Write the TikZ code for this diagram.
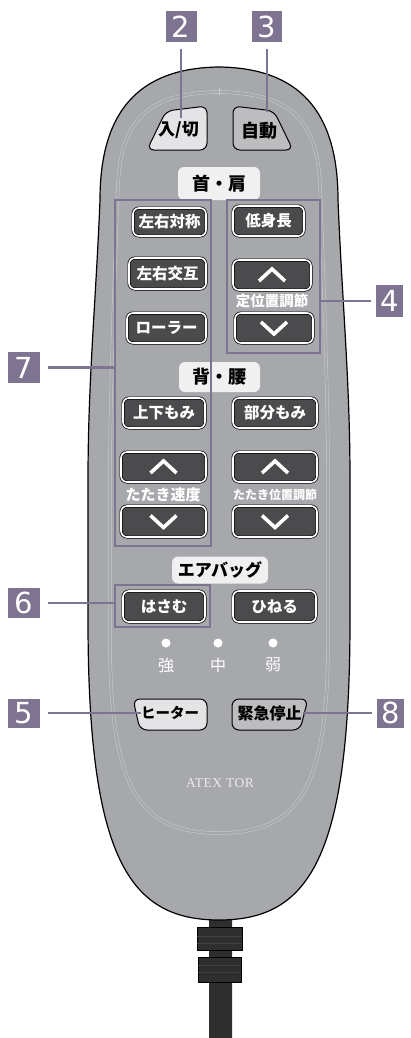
\documentclass[tikz,border=0pt]{standalone}
\usepackage{fontspec}
\newfontfamily\jp{Noto Sans CJK JP}
\newfontfamily\numfont{DejaVu Sans}
\newfontfamily\logofont{Liberation Serif}[LetterSpace=4]
\usetikzlibrary{positioning,calc}
\definecolor{bodyGray}{HTML}{A7A8AB}
\definecolor{calloutPurple}{HTML}{7E7492}
\definecolor{btnDark}{HTML}{4B4B4D}
\definecolor{btnLight}{HTML}{E4E4E6}
\definecolor{btnMid}{HTML}{BDBDC0}
\definecolor{tagWhite}{HTML}{F0F0F1}
\definecolor{lineLight}{HTML}{CBCCCE}
\definecolor{cordDark}{HTML}{2E2E2E}
\definecolor{cordLight}{HTML}{9C9C9C}
\tikzstyle{numBox} = [rectangle, fill=calloutPurple, text=white, minimum width=31, minimum height=31, inner sep=0pt, font=\numfont\fontsize{29}{29}\selectfont]
\tikzstyle{callout} = [line width=2.6pt, draw=calloutPurple]
\tikzstyle{grpBox} = [rectangle, draw=calloutPurple, line width=2.4pt, inner sep=0pt]
\tikzstyle{darkBtn} = [rectangle, rounded corners=6pt, fill=btnDark, draw=black, double=white, double distance=1.6pt, line width=0.7pt, text=white, inner sep=0pt, font=\jp\bfseries\fontsize{15.5}{15.5}\selectfont]
\tikzstyle{tagBox} = [rectangle, rounded corners=6pt, fill=tagWhite, inner sep=0pt, font=\jp\bfseries\fontsize{18}{18}\selectfont]
\tikzstyle{whiteText} = [text=white, inner sep=0pt, font=\jp\bfseries\fontsize{15}{15}\selectfont]
\tikzstyle{btnText} = [inner sep=0pt, font=\jp\bfseries\fontsize{16}{16}\selectfont]
\tikzstyle{lightBtn} = [draw=black, line width=1pt, rounded corners=7pt]
\tikzstyle{chev} = [draw=white, line width=3.6pt]
\tikzstyle{cordShade} = [left color=cordDark, middle color=cordLight, right color=cordDark]
\tikzstyle{led} = [circle, fill=white, minimum size=9, inner sep=0pt]

\begin{document}
\begin{tikzpicture}[x=1pt, y=-1pt]
    \useasboundingbox (0,0) rectangle (411,1038);

    % cord
    \shade[cordShade] (209,912) rectangle (232,1038);
    \shade[cordShade, draw=black, line width=0.5pt] (197,927) rectangle (242,950);
    \shade[cordShade, draw=black, line width=0.5pt] (198,957) rectangle (241,982);
    \draw[black!75, line width=0.8pt] (197,936) -- (242,936) (197,943) -- (242,943);
    \draw[black!75, line width=0.8pt] (198,965) -- (241,965) (198,972) -- (241,972);

    % body
    \draw[fill=bodyGray, draw=black, line width=1.2pt]
        (219,67) .. controls (140,68) and (100,110) .. (100,200)
        .. controls (96,300) and (88,380) .. (88,480) -- (88,620)
        .. controls (88,860) and (130,920) .. (219,920)
        .. controls (308,920) and (350,860) .. (350,620) -- (350,480)
        .. controls (350,380) and (342,300) .. (338,200)
        .. controls (338,110) and (298,68) .. (219,67) -- cycle;
    \draw[lineLight, line width=0.5pt, double=bodyGray, double distance=2.4pt]
        (219,92) .. controls (150,93) and (121,118) .. (118,185)
        .. controls (114,290) and (110,400) .. (110,480) -- (110,640)
        .. controls (110,790) and (140,833) .. (219,833)
        .. controls (298,833) and (328,790) .. (328,640) -- (328,480)
        .. controls (328,400) and (324,290) .. (320,185)
        .. controls (317,118) and (288,93) .. (219,92) -- cycle;
    \draw[lineLight, line width=0.6pt] (219,88) -- (219,95);

    % top buttons
    \draw[lightBtn, fill=btnLight] (166,111) -- (207,106) -- (207,150) -- (147,150) -- cycle;
    \draw[lightBtn, fill=btnMid] (274,111) -- (233,106) -- (233,150) -- (293,150) -- cycle;
    \node (onoff) [btnText, font=\jp\bfseries\fontsize{17}{17}\selectfont] at (178.5,130.5) {入/切};
    \node (auto) [btnText, font=\jp\bfseries\fontsize{18}{18}\selectfont] at (259.5,130.5) {自動};

    % neck and shoulder
    \node (neckTag) [tagBox, minimum width=82, minimum height=33] at (219,183.5) {首・肩};
    \node (sym) [darkBtn, minimum width=73, minimum height=28] at (169.5,222) {左右対称};
    \node (alt) [darkBtn, minimum width=77, minimum height=31] at (167.5,273.5) {左右交互};
    \node (roller) [darkBtn, minimum width=79, minimum height=30] at (166.5,328) {ローラー};
    \node (short) [darkBtn, minimum width=71, minimum height=30] at (268.5,221) {低身長};
    \node (posUp) [darkBtn, minimum width=78, minimum height=30] at (272,275) {};
    \node (posDown) [darkBtn, minimum width=78, minimum height=30] at (274,328) {};
    \node (posText) [whiteText, font=\jp\bfseries\fontsize{14.5}{14.5}\selectfont] at (272,300.5) {定位置調節};

    % back and waist
    \node (backTag) [tagBox, minimum width=81, minimum height=30] at (219.5,377) {背・腰};
    \node (updown) [darkBtn, minimum width=82, minimum height=30] at (164,413) {上下もみ};
    \node (partial) [darkBtn, minimum width=84, minimum height=30] at (275,413) {部分もみ};
    \node (speedUp) [darkBtn, minimum width=85, minimum height=30] at (163.5,467) {};
    \node (tapUp) [darkBtn, minimum width=84, minimum height=30] at (275,467) {};
    \node (speedText) [whiteText] at (163,495) {たたき速度};
    \node (tapText) [whiteText, font=\jp\bfseries\fontsize{12}{12}\selectfont] at (275,495) {たたき位置調節};
    \node (speedDown) [darkBtn, minimum width=85, minimum height=31] at (163.5,521.5) {};
    \node (tapDown) [darkBtn, minimum width=84, minimum height=31] at (275,521.5) {};

    % chevrons
    \foreach \n in {posUp, speedUp, tapUp}
        \draw[chev] ($(\n.center)+(-13,6)$) -- ($(\n.center)+(0,-6)$) -- ($(\n.center)+(13,6)$);
    \foreach \n in {posDown, speedDown, tapDown}
        \draw[chev] ($(\n.center)+(-13,-6)$) -- ($(\n.center)+(0,6)$) -- ($(\n.center)+(13,-6)$);

    % airbag
    \node (airTag) [tagBox, minimum width=96, minimum height=27, font=\jp\bfseries\fontsize{17}{17}\selectfont] at (220,570) {エアバッグ};
    \node (pinch) [darkBtn, minimum width=82, minimum height=31] at (164,606.5) {はさむ};
    \node (twist) [darkBtn, minimum width=83, minimum height=31] at (274.5,606.5) {ひねる};
    \node (ledHi) [led] at (166,643) {};
    \node (ledMid) [led] at (218,643) {};
    \node (ledLo) [led] at (273,643) {};
    \node (strong) [whiteText, font=\jp\fontsize{16}{16}\selectfont] at (166,665) {強};
    \node (medium) [whiteText, font=\jp\fontsize{16}{16}\selectfont] at (218,665) {中};
    \node (weak) [whiteText, font=\jp\fontsize{16}{16}\selectfont] at (273,665) {弱};

    % heater and stop
    \draw[lightBtn, fill=btnLight] (133,699) -- (207,699) -- (207,730) -- (140,730) -- cycle;
    \draw[lightBtn, fill=btnMid] (232,699) -- (308,699) -- (300,730) -- (232,730) -- cycle;
    \node (heater) [btnText, font=\jp\bfseries\fontsize{14.5}{14.5}\selectfont, minimum width=58] at (170,713) {ヒーター};
    \node (stop) [btnText, minimum width=66] at (269.5,713) {緊急停止};

    \node (logo) [text=white!92!black, font=\logofont\fontsize{13.5}{13.5}\selectfont] at (220,783) {ATEX TOR};

    % callouts
    \node (grp7) [grpBox, minimum width=96, minimum height=346] at (163,373) {};
    \node (grp4) [grpBox, minimum width=93, minimum height=153] at (273.5,276.5) {};
    \node (grp6) [grpBox, minimum width=95, minimum height=42] at (162.5,606) {};

    \node (n2) [numBox] at (181,26.5) {2};
    \node (n3) [numBox, minimum width=30] at (267,26.5) {3};
    \node (n4) [numBox, minimum width=27, minimum height=32] at (389.5,301) {4};
    \node (n7) [numBox, minimum width=32] at (24,367.5) {7};
    \node (n6) [numBox, minimum width=32, minimum height=30] at (24,603) {6};
    \node (n5) [numBox, minimum width=32, minimum height=29] at (24,713) {5};
    \node (n8) [numBox, minimum width=27, minimum height=29] at (390.5,713) {8};

    \coordinate (p2) at (181,118);
    \coordinate (p3) at (267,112);
    \draw[callout, shorten <=7pt] (n2) -- (p2);
    \draw[callout, shorten <=7pt] (n3) -- (p3);
    \draw[callout, shorten >=5pt] (grp4.east |- n4) -- (n4);
    \draw[callout, shorten <=8pt] (n7) -- (n7 -| grp7.west);
    \draw[callout, shorten <=8pt] (n6) -- (n6 -| grp6.west);
    \draw[callout, shorten <=8pt] (n5) -- (heater.west);
    \draw[callout, shorten >=5pt] (stop.east) -- (n8);
\end{tikzpicture}
\end{document}
